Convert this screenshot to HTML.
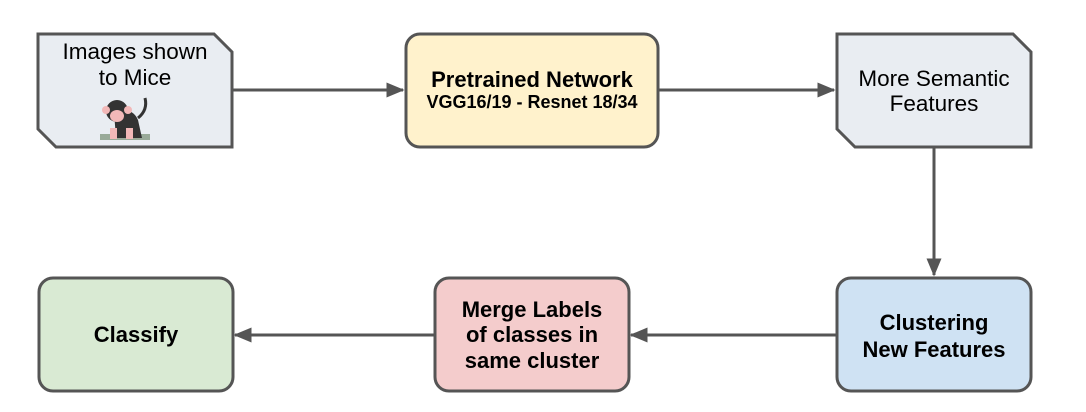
<!DOCTYPE html>
<html><head><style>
body{margin:0;background:#fff;}
svg text{font-family:"Liberation Sans",sans-serif;fill:#000;}
</style></head><body>
<svg width="1086" height="407" xmlns="http://www.w3.org/2000/svg">
<defs>
<marker id="b" viewBox="0 0 12 10" markerWidth="18" markerHeight="15" refX="11" refY="5" orient="auto" markerUnits="userSpaceOnUse"><path d="M0,0 L12,5 L0,10 z" fill="#555"/></marker></defs>
<g stroke="#555" stroke-width="3">
<line x1="232" y1="90" x2="403" y2="90" marker-end="url(#b)"/>
<line x1="658" y1="90" x2="834" y2="90" marker-end="url(#b)"/>
<line x1="934" y1="147" x2="934" y2="275" marker-end="url(#b)"/>
<line x1="836" y1="335" x2="631" y2="335" marker-end="url(#b)"/>
<line x1="434" y1="335" x2="235" y2="335" marker-end="url(#b)"/>
<path d="M38,34 H214 L232,52 V147 H56 L38,129 Z" fill="#e9edf2"/>
<path d="M837,34 H1013 L1031,52 V147 H855 L837,129 Z" fill="#e9edf2"/>
<rect x="406" y="34" width="252" height="113" rx="14" fill="#fff2cc"/>
<rect x="39" y="278" width="194" height="113" rx="14" fill="#d9ead3"/>
<rect x="435" y="278" width="194" height="113" rx="14" fill="#f4cccc"/>
<rect x="837" y="278" width="194" height="113" rx="14" fill="#cfe2f3"/>
</g>
<text x="135" y="59" font-size="22.5" text-anchor="middle">Images shown</text>
<text x="135" y="85" font-size="22.5" text-anchor="middle">to Mice</text>
<g>
<rect x="100" y="134" width="50" height="6" fill="#9a9"/>
<path d="M114,112 q18,-6 24,8 l4,18 h-26 z" fill="#333"/>
<path d="M138,118 q10,-8 7,-20" stroke="#333" stroke-width="3" fill="none"/>
<circle cx="117" cy="111" r="11" fill="#333"/>
<circle cx="106" cy="110" r="4" fill="#f2b8b8"/><circle cx="128" cy="110" r="4" fill="#f2b8b8"/>
<ellipse cx="117" cy="116" rx="7" ry="6" fill="#f2b8b8"/>
<rect x="110" y="128" width="7" height="11" fill="#f2b8b8"/><rect x="126" y="128" width="7" height="11" fill="#f2b8b8"/>
</g>
<text x="532" y="87" font-size="22" font-weight="bold" text-anchor="middle">Pretrained Network</text>
<text x="532" y="108" font-size="18" font-weight="bold" text-anchor="middle">VGG16/19 - Resnet 18/34</text>
<text x="934" y="86" font-size="22.5" text-anchor="middle">More Semantic</text>
<text x="934" y="111" font-size="22.5" text-anchor="middle">Features</text>
<text x="136" y="342" font-size="22" font-weight="bold" text-anchor="middle">Classify</text>
<text x="532" y="317" font-size="22" font-weight="bold" text-anchor="middle">Merge Labels</text>
<text x="532" y="342" font-size="22" font-weight="bold" text-anchor="middle">of classes in</text>
<text x="532" y="368" font-size="22" font-weight="bold" text-anchor="middle">same cluster</text>
<text x="934" y="330" font-size="22" font-weight="bold" text-anchor="middle">Clustering</text>
<text x="934" y="357" font-size="22" font-weight="bold" text-anchor="middle">New Features</text>
</svg>
</body></html>
